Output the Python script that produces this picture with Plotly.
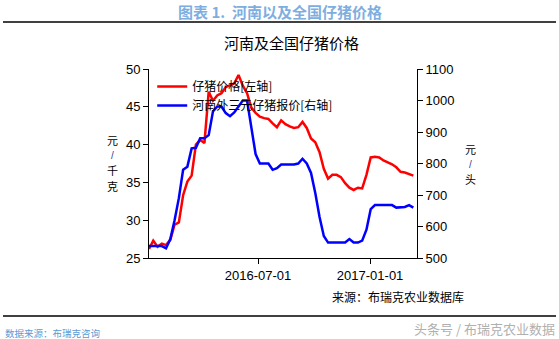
import pandas as pd
import plotly.graph_objects as go

# weekly observations
dates = pd.date_range("2016-01-04", periods=63, freq="7D")

# national piglet price, yuan/kg (left axis)
piglet_price = [
    26.2, 27.3, 26.5, 26.9, 26.7, 27.4, 29.4, 29.7, 33.3, 35.1,
    35.9, 40.0, 40.6, 40.2, 47.0, 45.8, 46.5, 46.8, 47.6, 47.9,
    48.1, 49.2, 47.8, 46.8, 44.9, 44.2, 43.7, 43.5, 43.4, 42.8,
    42.3, 43.2, 42.7, 42.4, 42.2, 42.3, 43.0, 42.2, 40.8, 40.3,
    39.0, 36.8, 35.5, 36.0, 36.0, 35.7, 34.9, 34.3, 34.0, 34.3,
    34.2, 36.0, 38.3, 38.4, 38.3, 37.9, 37.7, 37.4, 37.0, 36.4,
    36.3, 36.1, 35.9,
]

# Henan crossbred piglet quote, yuan/head (right axis)
henan_quote = [
    538, 538, 538, 538, 531, 560, 620, 690, 780, 790,
    848, 850, 880, 880, 890, 965, 981, 981, 960, 950,
    962, 981, 1000, 1000, 920, 830, 800, 800, 800, 780,
    785, 797, 797, 797, 797, 800, 815, 800, 770, 706,
    630, 570, 549, 549, 549, 549, 549, 560, 549, 549,
    555, 590, 655, 668, 668, 668, 668, 668, 660, 660,
    662, 668, 660,
]

x_ticks = ["2016-07-01", "2017-01-01"]
left_ticks = [25, 30, 35, 40, 45, 50]
right_ticks = [500, 600, 700, 800, 900, 1000, 1100]

cjk = "Noto Sans CJK SC"
latin = "Liberation Sans"

fig = go.Figure()
fig.add_trace(go.Scatter(
    x=dates, y=piglet_price, name="仔猪价格[左轴]", mode="lines",
    line=dict(color="#ff0000", width=2.5), yaxis="y",
))
fig.add_trace(go.Scatter(
    x=dates, y=henan_quote, name="河南外三元仔猪报价[右轴]", mode="lines",
    line=dict(color="#0000ff", width=2.5), yaxis="y2",
))

axis_common = dict(
    showgrid=False, zeroline=False, showline=True, linecolor="black",
    linewidth=1, ticks="outside", ticklen=5, tickcolor="black",
    tickfont=dict(family=latin, size=13, color="black"),
)

W, H = 559, 339
L, R, T, B = 149, 142, 69, 81
pw, ph = W - L - R, H - T - B

def px(x):
    return (x - L) / pw

def py(y):
    return (H - B - y) / ph

fig.update_layout(
    width=W, height=H,
    margin=dict(l=L, r=R, t=T, b=B),
    paper_bgcolor="white", plot_bgcolor="white",
    showlegend=True,
    legend=dict(
        x=0.012, y=py(72), xanchor="left", yanchor="top",
        bgcolor="rgba(0,0,0,0)", borderwidth=0,
        font=dict(family=cjk, size=12, color="black"),
        itemwidth=30, tracegroupgap=0,
    ),
    xaxis=dict(
        range=["2016-01-04", "2017-03-19"],
        tickvals=x_ticks, ticktext=x_ticks,
        **axis_common,
    ),
    yaxis=dict(range=[25, 50], tickvals=left_ticks, **axis_common),
    yaxis2=dict(
        range=[500, 1100], tickvals=right_ticks, overlaying="y",
        side="right", **axis_common,
    ),
)

def label(text, x, y, size, color="black", family=cjk):
    fig.add_annotation(
        text=text, xref="paper", yref="paper", x=px(x), y=py(y),
        xanchor="center", yanchor="middle", showarrow=False,
        font=dict(family=family, size=size, color=color),
    )

# headers and footers
label("<b>图表 1.  河南以及全国仔猪价格</b>", 280, 12, 15, "#7eaee0")
label("河南及全国仔猪价格", 291, 43, 15)
label("来源：布瑞克农业数据库", 398, 296, 12)
label("数据来源：布瑞克咨询", 52, 333, 9.5, "#5b9bd5")
label("头条号 / 布瑞克农业数据", 484, 328, 13, "#b0b0b0")

# stacked axis titles, one glyph per row, slash set smaller
for ch, y in zip("元/千克", (140, 155, 170, 186)):
    if ch == "/":
        label(ch, 112, y, 10, "#3a3a90", latin)
    else:
        label(ch, 112, y, 11)
for ch, y in zip("元/头", (149, 164, 179)):
    if ch == "/":
        label(ch, 470, y, 10, "#3a3a90", latin)
    else:
        label(ch, 470, y, 11)

for yline in (22, 316):
    fig.add_shape(
        type="line", xref="paper", yref="paper",
        x0=px(3), x1=px(556), y0=py(yline), y1=py(yline),
        line=dict(color="black", width=1.5),
    )

fig.write_html("out.html")
